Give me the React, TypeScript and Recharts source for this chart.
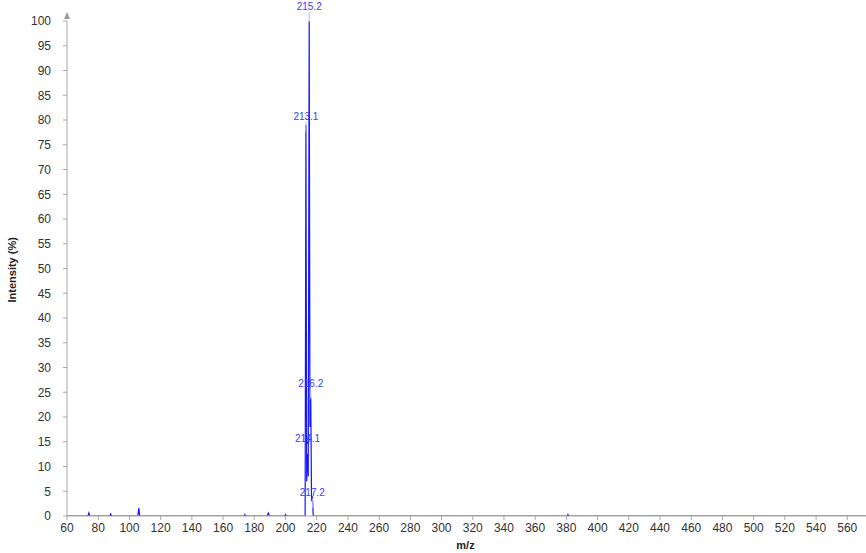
import React from 'react';
import {
  ComposedChart,
  Line,
  XAxis,
  YAxis,
  ReferenceDot,
} from 'recharts';

// m/z profile points and intensities (%)
const mzValues = [
  60, 73.4, 74, 74.6, 87.5, 88, 88.6, 105.4, 106, 106.6, 173.5, 174, 174.5,
  188.3, 189, 189.8, 199.5, 200, 200.6, 212.6, 213.1, 213.6, 214.1, 214.6,
  215.2, 215.7, 216.2, 216.7, 217.2, 217.8, 380.5, 381, 381.5, 572,
];
const intensities = [
  0, 0, 0.6, 0, 0, 0.4, 0, 0, 1.6, 0, 0, 0.3, 0,
  0, 0.6, 0, 0, 0.3, 0, 0, 79, 7, 15, 8,
  100, 18, 24, 3, 4, 0, 0, 0.3, 0, 0,
];

// annotated centroids
const peakMz = [215.2, 213.1, 216.2, 214.1, 217.2];
const peakLabelY = [101.2, 79, 25, 14, 3];
const peakText = ['215.2', '213.1', '216.2', '214.1', '217.2'];

const xTicks = [
  60, 80, 100, 120, 140, 160, 180, 200, 220, 240, 260, 280, 300, 320, 340,
  360, 380, 400, 420, 440, 460, 480, 500, 520, 540, 560,
];
const yTicks = [
  0, 5, 10, 15, 20, 25, 30, 35, 40, 45, 50, 55, 60, 65, 70, 75, 80, 85, 90,
  95, 100,
];

const spectrum = mzValues.map((mz, i) => ({ mz, intensity: intensities[i] }));

const BLUE = '#1414ff';
const GREY = '#a8a8a8';
const FONT = '"Liberation Sans", Arial, sans-serif';

const peakLabel = (text: string) => (props: any) => {
  const { cx, cy } = props;
  return (
    <g>
      <line x1={cx} x2={cx} y1={cy - 3} y2={cy + 7} stroke="#b4b8ff" strokeWidth={1} />
      <text
        x={cx}
        y={cy - 5}
        textAnchor="middle"
        fontSize={10}
        fontFamily={FONT}
        fill="#3c3cff"
      >
        {text}
      </text>
    </g>
  );
};

const AxisArrow = (props: any) => {
  const { cx, cy } = props;
  return <path d={`M${cx - 3},${cy - 2} L${cx + 3},${cy - 2} L${cx},${cy - 9} Z`} fill="#999" />;
};

export default function App() {
  return (
    <div style={{ position: 'absolute', left: 0, top: 0, background: '#fff' }}>
      <ComposedChart
        width={866}
        height={553}
        data={spectrum}
        margin={{ top: 21, right: 0, bottom: 0, left: 0 }}
      >
        <XAxis
          dataKey="mz"
          type="number"
          domain={[60, 572]}
          ticks={xTicks}
          allowDataOverflow
          height={37}
          stroke={GREY}
          tickSize={4}
          tickMargin={3}
          tick={{ fontSize: 12, fill: '#333', fontFamily: FONT }}
          label={{
            value: 'm/z',
            position: 'insideBottom',
            offset: 4,
            dx: -1,
            style: { fontSize: 11, fontWeight: 'bold', fill: '#222', fontFamily: FONT },
          }}
        />
        <YAxis
          type="number"
          domain={[0, 100]}
          ticks={yTicks}
          width={67}
          allowDataOverflow
          stroke={GREY}
          tickSize={4}
          tickMargin={12}
          tick={{ fontSize: 12, fill: '#333', fontFamily: FONT }}
          label={{
            value: 'Intensity (%)',
            angle: -90,
            position: 'insideLeft',
            offset: 12,
            dy: 34,
            style: { fontSize: 11, fontWeight: 'bold', fill: '#222', fontFamily: FONT },
          }}
        />
        <ReferenceDot x={60} y={100} r={0} ifOverflow="visible" shape={AxisArrow} />
        <Line
          dataKey="intensity"
          type="linear"
          stroke={BLUE}
          strokeWidth={1.2}
          dot={false}
          activeDot={false}
          isAnimationActive={false}
        />
        {peakMz.map((mz, i) => (
          <ReferenceDot
            key={peakText[i]}
            x={mz}
            y={peakLabelY[i]}
            r={0}
            ifOverflow="visible"
            shape={peakLabel(peakText[i])}
          />
        ))}
      </ComposedChart>
    </div>
  );
}
